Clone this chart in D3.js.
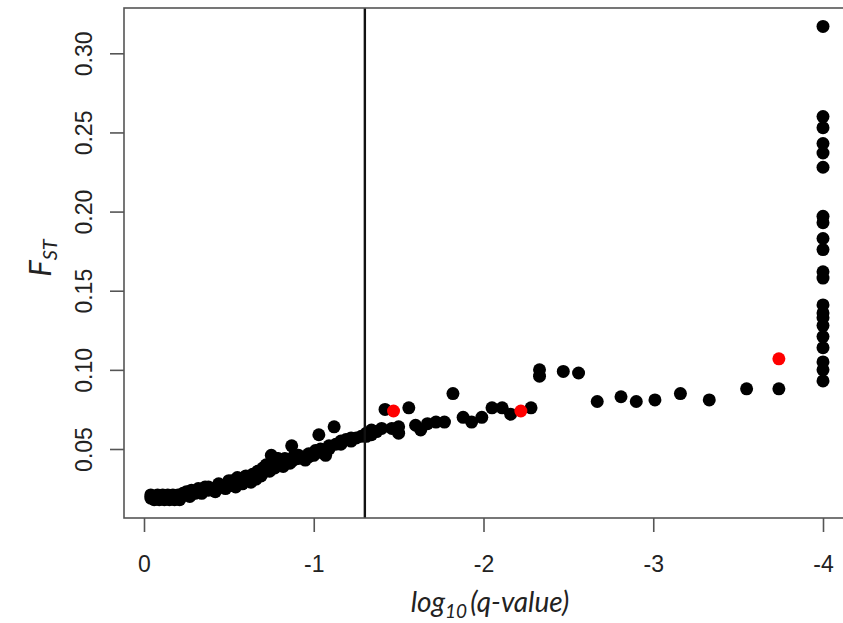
<!DOCTYPE html>
<html>
<head>
<meta charset="utf-8">
<script src="https://cdn.jsdelivr.net/npm/d3@7"></script>
<style>
  body { margin: 0; background: #fff; }
  .tick-label { font-family: "Liberation Sans", Arial, sans-serif; font-size: 23px; fill: #222; }
  .title { font-family: Lato, "Open Sans", sans-serif; font-style: italic; fill: #222; }
</style>
</head>
<body>
<svg id="chart" width="843" height="623"></svg>
<script>
// [log10(q-value), Fst]
var blackPoints = [
  [-0.04,0.019],[-0.04,0.021],[-0.06,0.018],[-0.07,0.020],[-0.08,0.021],[-0.09,0.018],[-0.10,0.019],
  [-0.11,0.021],[-0.12,0.018],[-0.13,0.020],[-0.14,0.021],[-0.15,0.018],[-0.16,0.019],[-0.17,0.021],
  [-0.18,0.018],[-0.19,0.020],[-0.20,0.021],[-0.21,0.018],[-0.22,0.020],[-0.23,0.022],
  [-0.25,0.021],[-0.25,0.023],[-0.27,0.020],[-0.28,0.022],[-0.28,0.024],[-0.30,0.022],[-0.32,0.023],
  [-0.32,0.025],[-0.34,0.022],[-0.35,0.024],[-0.36,0.026],[-0.38,0.024],[-0.38,0.026],[-0.41,0.025],
  [-0.42,0.023],[-0.44,0.026],[-0.44,0.028],[-0.47,0.027],[-0.48,0.025],[-0.50,0.028],[-0.50,0.030],
  [-0.52,0.027],[-0.52,0.030],[-0.54,0.026],[-0.55,0.029],[-0.55,0.032],[-0.57,0.031],[-0.58,0.028],
  [-0.60,0.030],[-0.60,0.033],[-0.62,0.032],[-0.63,0.029],[-0.64,0.031],[-0.64,0.034],[-0.66,0.031],
  [-0.67,0.033],[-0.67,0.036],[-0.69,0.033],[-0.70,0.035],[-0.70,0.038],[-0.72,0.037],[-0.72,0.040],
  [-0.74,0.039],[-0.74,0.036],[-0.75,0.046],[-0.77,0.038],[-0.77,0.041],[-0.78,0.044],[-0.79,0.044],
  [-0.80,0.040],[-0.82,0.039],[-0.83,0.042],[-0.83,0.044],[-0.87,0.052],[-0.86,0.041],[-0.88,0.043],
  [-0.88,0.045],[-0.91,0.044],[-0.91,0.046],[-0.94,0.045],[-0.95,0.043],[-0.97,0.045],[-0.97,0.047],
  [-1.00,0.046],[-1.01,0.049],[-1.03,0.059],[-1.04,0.048],[-1.04,0.050],[-1.07,0.046],[-1.09,0.050],
  [-1.09,0.052],[-1.12,0.064],[-1.13,0.053],[-1.16,0.053],[-1.16,0.055],[-1.19,0.056],[-1.22,0.055],
  [-1.22,0.057],[-1.25,0.057],[-1.28,0.058],[-1.31,0.058],[-1.31,0.060],[-1.34,0.059],[-1.34,0.062],
  [-1.37,0.061],[-1.40,0.063],[-1.42,0.075],[-1.46,0.063],[-1.50,0.064],[-1.50,0.060],[-1.56,0.076],
  [-1.60,0.065],[-1.63,0.062],[-1.67,0.066],[-1.72,0.067],[-1.77,0.067],[-1.82,0.085],[-1.88,0.070],
  [-1.93,0.067],[-1.99,0.070],[-2.05,0.076],[-2.11,0.076],[-2.16,0.072],[-2.28,0.076],[-2.33,0.100],
  [-2.33,0.096],[-2.47,0.099],[-2.56,0.098],[-2.67,0.080],[-2.81,0.083],[-2.90,0.080],[-3.01,0.081],
  [-3.16,0.085],[-3.33,0.081],[-3.55,0.088],[-3.74,0.088],
  [-4,0.317],[-4,0.260],[-4,0.253],[-4,0.243],[-4,0.237],[-4,0.228],[-4,0.197],[-4,0.193],[-4,0.183],
  [-4,0.176],[-4,0.162],[-4,0.158],[-4,0.141],[-4,0.136],[-4,0.133],[-4,0.128],[-4,0.121],[-4,0.114],
  [-4,0.105],[-4,0.100],[-4,0.093]
];
var redPoints = [[-1.47,0.074],[-2.22,0.074],[-3.74,0.107]];
var xTicks = [0, -1, -2, -3, -4];
var yTicks = [0.05, 0.10, 0.15, 0.20, 0.25, 0.30];
var threshold = Math.log10(0.05);

var svg = d3.select('#chart');

var box = {left: 124, top: 8, right: 850, bottom: 518};

var x = d3.scaleLinear().domain([0, -4]).range([144, 823]);
var y = d3.scaleLinear().domain([0.05, 0.30]).range([449, 53.3]);

// points
var dot = function(chain, color){
  chain.append('circle')
    .attr('cx', function(d){ return x(d[0]); })
    .attr('cy', function(d){ return y(d[1]); })
    .attr('r', 6.5)
    .attr('fill', color);
};
svg.append('g').selectAll('circle').data(blackPoints).enter().call(dot, '#000');
svg.append('g').selectAll('circle').data(redPoints).enter().call(dot, '#ff0000');

// threshold line q = 0.05
svg.append('line')
  .attr('x1', x(threshold)).attr('x2', x(threshold))
  .attr('y1', box.top).attr('y2', box.bottom)
  .attr('stroke', '#111').attr('stroke-width', 2.4);

// box
svg.append('rect')
  .attr('x', box.left).attr('y', box.top)
  .attr('width', box.right - box.left).attr('height', box.bottom - box.top)
  .attr('fill', 'none').attr('stroke', '#555').attr('stroke-width', 1.6);

// x axis (plain hyphen minus like R)
var xAxis = d3.axisBottom(x).tickValues(xTicks).tickSize(14).tickPadding(24)
  .tickFormat(function(d){ return d === 0 ? '0' : '-' + Math.abs(d); });
var gx = svg.append('g').attr('transform', 'translate(0,' + box.bottom + ')').call(xAxis);
gx.select('.domain').remove();
gx.selectAll('line').attr('stroke', '#555').attr('stroke-width', 1.6);
gx.selectAll('text').attr('class', 'tick-label').attr('fill', null);

// y axis, labels rotated like R
var yAxis = d3.axisLeft(y).tickValues(yTicks).tickSize(14).tickFormat(d3.format('.2f'));
var gy = svg.append('g').attr('transform', 'translate(' + box.left + ',0)').call(yAxis);
gy.select('.domain').remove();
gy.selectAll('line').attr('stroke', '#555').attr('stroke-width', 1.6);
gy.selectAll('text')
  .attr('class', 'tick-label').attr('fill', null)
  .attr('x', null).attr('dy', null)
  .attr('text-anchor', 'middle')
  .attr('transform', 'translate(-32,0) rotate(-90)');

// titles
var yt = svg.append('text').attr('class', 'title')
  .attr('text-anchor', 'middle')
  .attr('transform', 'translate(51,258) rotate(-90)');
yt.append('tspan').attr('font-size', 31).text('F');
yt.append('tspan').attr('font-size', 20).attr('dy', 6).text('ST');

var xt = svg.append('text').attr('class', 'title')
  .attr('text-anchor', 'middle')
  .attr('x', 490).attr('y', 612);
xt.append('tspan').attr('font-size', 28).text('log');
xt.append('tspan').attr('font-size', 19).attr('dy', 6).text('10');
xt.append('tspan').attr('font-size', 28).attr('dy', -6).text('\u2009(q-value)');
</script>
</body>
</html>
